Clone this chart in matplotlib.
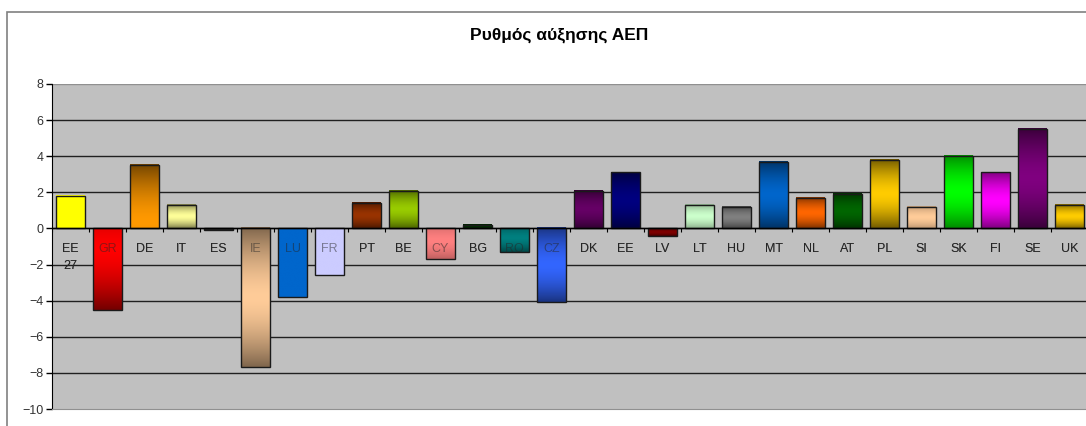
import numpy as np
import matplotlib
matplotlib.use('Agg')
import matplotlib.pyplot as plt
from matplotlib.colors import to_rgb
from matplotlib.patches import Rectangle
from matplotlib.transforms import offset_copy

# GDP growth rate by member state
countries = ['EE\n27', 'GR', 'DE', 'IT', 'ES', 'IE', 'LU', 'FR', 'PT', 'BE',
             'CY', 'BG', 'RO', 'CZ', 'DK', 'EE', 'LV', 'LT', 'HU', 'MT',
             'NL', 'AT', 'PL', 'SI', 'SK', 'FI', 'SE', 'UK']
growth = [1.8, -4.5, 3.5, 1.3, -0.1, -7.7, -3.8, -2.6, 1.4, 2.1,
          -1.7, 0.2, -1.3, -4.1, 2.1, 3.1, -0.4, 1.3, 1.2, 3.7,
          1.7, 1.9, 3.8, 1.2, 4.0, 3.1, 5.5, 1.3]

bar_colors = ['#FFFF00', '#FF0000', '#FF9900', '#FFFF99', '#333333', '#FFCC99',
              '#0066CC', '#CCCCFF', '#993300', '#99CC00', '#FF8080', '#003300',
              '#008080', '#3366FF', '#660066', '#000080', '#800000', '#CCFFCC',
              '#808080', '#0066CC', '#FF6600', '#006600', '#FFCC00', '#FFCC99',
              '#00FF00', '#FF00FF', '#800080', '#FFCC00']
# position of the brightest band (0 = bar bottom, 1 = bar top), None = flat fill
shade_peak = [None, 0.75, 0.1, 0.5, 0.5, 0.5, None, None, 0.5, 0.5,
              0.6, 0.5, 0.6, 0.5, 0.5, 0.5, 0.5, 0.5, 0.5, 0.5,
              0.5, 0.5, 0.5, 0.5, 0.5, 0.5, 0.5, 0.5]
shade_dark = [1, 0.45, 0.45, 0.5, 0.5, 0.5, 1, 1, 0.5, 0.5,
              0.75, 0.5, 0.55, 0.5, 0.5, 0.5, 0.5, 0.7, 0.55, 0.5,
              0.5, 0.5, 0.45, 0.75, 0.55, 0.5, 0.45, 0.5]

W, H = 1086, 426
fig = plt.figure(figsize=(W / 100, H / 100), dpi=100)
fig.patch.set_facecolor('white')
fig.patches.append(Rectangle((7 / W, -0.1), 1.2, 1 - 12 / H + 0.1,
                             transform=fig.transFigure, fill=False,
                             edgecolor='#808080', lw=1.2))

ax = fig.add_axes([52 / W, (H - 409) / H, 1036 / W, 325 / H])
ax.set_facecolor('#C0C0C0')
ax.set_xlim(-0.5, len(countries) - 0.5)
ax.set_ylim(-10, 8)

for v in np.arange(-8, 7, 2):
    ax.axhline(v, color='#202020', lw=1, zorder=0.5)
ax.axhline(8, color='#909090', lw=1, zorder=0.5)

ax.spines['top'].set_visible(False)
ax.spines['right'].set_visible(False)
ax.spines['bottom'].set_color('#909090')
ax.spines['left'].set_color('black')

ax.set_yticks(np.arange(-10, 9, 2))
ax.tick_params(axis='y', direction='out', length=4, width=1, color='black',
               labelsize=9, labelcolor='#333333', pad=2)
for t in ax.get_yticklabels():
    t.set_fontfamily('Liberation Sans')
ax.set_xticks([])

# category axis along zero with ticks between categories
ax.axhline(0, color='black', lw=1, zorder=3.5)
for i in range(len(countries) + 1):
    ax.plot([i - 0.5, i - 0.5], [0, -0.17], color='black', lw=0.8, zorder=3.5,
            solid_capstyle='butt')

width = 0.76
for i, (v, c, p, d) in enumerate(zip(growth, bar_colors, shade_peak, shade_dark)):
    lo, hi = min(0, v), max(0, v)
    t = np.linspace(0, 1, 200)
    if p is None:
        f = np.ones_like(t)
    else:
        f = 1 - (np.abs(t - p) / max(p, 1 - p)) ** 1.6
    k = d + (1 - d) * f
    rgb = np.array(to_rgb(c))
    img = (k[:, None] * rgb[None, :])[:, None, :]
    ax.imshow(img, extent=[i - width / 2, i + width / 2, lo, hi],
              origin='lower', aspect='auto', zorder=2, interpolation='bilinear')
    ax.add_patch(Rectangle((i - width / 2, lo), width, hi - lo, fill=False,
                           edgecolor='#1a1a1a', lw=1, zorder=3))

ax.set_xlim(-0.5, len(countries) - 0.5)
ax.set_ylim(-10, 8)

# category labels sit under the bars and show through them
label_tr = offset_copy(ax.transData, fig=fig, y=-14.5, units='dots')
for i, name in enumerate(countries):
    for z, a in ((1.5, 1.0), (4, 0.5)):
        ax.text(i, 0, name, transform=label_tr, ha='center', va='top',
                fontsize=9, color='#262626', alpha=a, zorder=z,
                family='Liberation Sans', linespacing=1.55)

fig.text(559 / W, 1 - 35 / H, 'Ρυθμός αύξησης ΑΕΠ', ha='center', va='center',
         fontsize=12.5, fontweight='bold', color='black',
         family=['Liberation Sans Narrow', 'Liberation Sans'])

fig.savefig('out.png', dpi=100)
